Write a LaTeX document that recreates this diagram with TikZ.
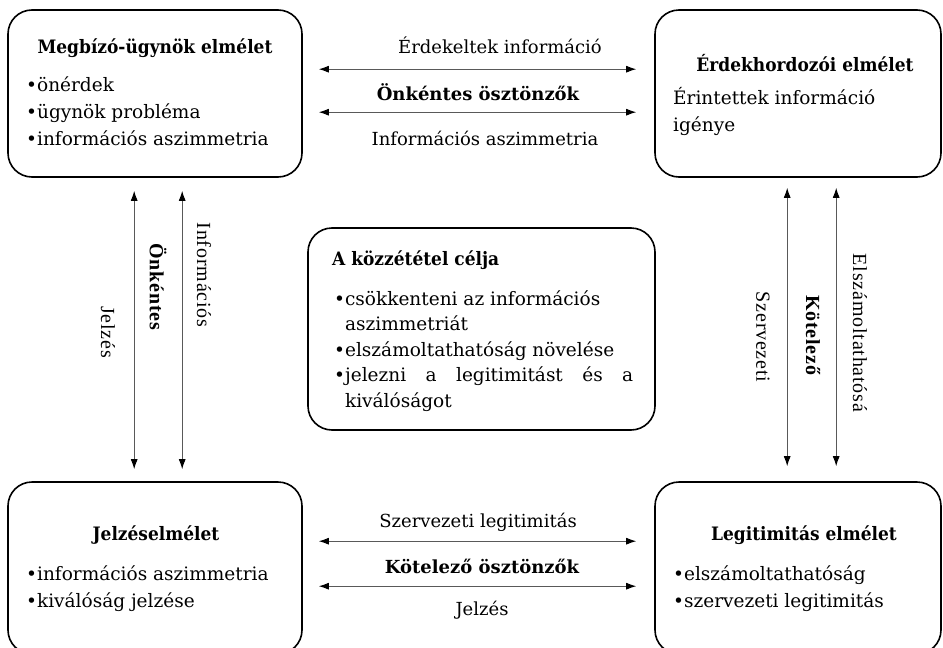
\documentclass[tikz,border=0pt]{standalone}
\usepackage{fontspec}
\setmainfont{DejaVu Serif}
\newfontfamily\rotfont[LetterSpace=4]{Liberation Serif}
\usetikzlibrary{calc,arrows.meta}

\tikzset{
    box/.style={draw, line width=1.6pt, rounded corners=24pt, inner sep=0pt},
    head/.style={font=\bfseries\fontsize{18.5}{20}\selectfont\addfontfeature{FakeStretch=0.92}, inner sep=0pt},
    lst/.style={font=\fontsize{18.5}{27}\selectfont, align=left, inner sep=0pt},
    lbl/.style={font=\fontsize{18}{20}\selectfont, inner sep=0pt},
    blbl/.style={font=\bfseries\fontsize{18}{20}\selectfont, inner sep=0pt},
    vlbl/.style={font=\rotfont\fontsize{20}{24}\selectfont, rotate=-90, inner sep=0pt},
    bvlbl/.style={font=\rotfont\bfseries\fontsize{20}{24}\selectfont, rotate=-90, inner sep=0pt},
    biarrow/.style={draw=black!65, line width=0.9pt,
        {Latex[length=10pt,width=7pt,color=black]}-{Latex[length=10pt,width=7pt,color=black]}}
}

\begin{document}
\begin{tikzpicture}[x=1pt,y=-1pt]

    % Fix the frame of the picture
    \useasboundingbox (0,0) rectangle (943,648);
    \clip (0,0) rectangle (943,648);

    % Draw the four theory boxes and the centre box
    \node[box, minimum width=294, minimum height=167] (megbizo) at (155,93.5) {};
    \node[box, minimum width=286, minimum height=167] (erdek) at (798,93.5) {};
    \node[box, minimum width=294, minimum height=172] (jelzes) at (155,568) {};
    \node[box, minimum width=286, minimum height=172] (legit) at (798,568) {};
    \node[box, minimum width=347, minimum height=202] (cel) at (481.5,329) {};

    % Texts of the boxes
    \node[head] (megbizoT) at (155,48) {Megbízó-ügynök elmélet};
    \node[lst, anchor=north west] (megbizoL) at (26,77)
        {•önérdek\\•ügynök probléma\\•információs aszimmetria};

    \node[head] (erdekT) at (805,63) {Érdekhordozói elmélet};
    \node[lst, anchor=north west] (erdekL) at (673,87)
        {Érintettek információ\\igénye};

    \node[head] (jelzesT) at (156,535) {Jelzéselmélet};
    \node[lst, anchor=north west] (jelzesL) at (26,565)
        {•információs aszimmetria\\•kiválóság jelzése};

    \node[head] (legitT) at (804,535) {Legitimitás elmélet};
    \node[lst, anchor=north west] (legitL) at (673,565)
        {•elszámoltathatóság\\•szervezeti legitimitás};

    \node[head, anchor=west] (celT) at (332,260) {A közzététel célja};
    \node[lst, anchor=north west, font=\fontsize{18.5}{25.5}\selectfont] (celL) at (334,290)
        {•csökkenteni az információs\\
         \phantom{•}aszimmetriát\\
         •elszámoltathatóság növelése\\
         \makebox[299pt][s]{•jelezni a legitimitást és a}\\
         \phantom{•}kiválóságot};

    % Horizontal arrows between the boxes
    \draw[biarrow, shorten <=16pt, shorten >=18pt]
        ($(megbizo.north east)+(0,60)$) -- ($(erdek.north west)+(0,60)$);
    \draw[biarrow, shorten <=16pt, shorten >=18pt]
        ($(megbizo.north east)+(0,103)$) -- ($(erdek.north west)+(0,103)$);
    \draw[biarrow, shorten <=16pt, shorten >=18pt]
        ($(jelzes.north east)+(0,60)$) -- ($(legit.north west)+(0,60)$);
    \draw[biarrow, shorten <=16pt, shorten >=18pt]
        ($(jelzes.north east)+(0,105)$) -- ($(legit.north west)+(0,105)$);

    % Vertical arrows between the boxes
    \draw[biarrow, shorten <=13pt, shorten >=12pt]
        ($(megbizo.south west)+(127,0)$) -- ($(jelzes.north west)+(127,0)$);
    \draw[biarrow, shorten <=13pt, shorten >=12pt]
        ($(megbizo.south west)+(175,0)$) -- ($(jelzes.north west)+(175,0)$);
    \draw[biarrow, shorten <=10pt, shorten >=15pt]
        ($(erdek.south west)+(133,0)$) -- ($(legit.north west)+(133,0)$);
    \draw[biarrow, shorten <=10pt, shorten >=15pt]
        ($(erdek.south west)+(182,0)$) -- ($(legit.north west)+(182,0)$);

    % Labels of the horizontal arrows
    \node[lbl] (felso1) at (500,45) {Érdekeltek információ};
    \node[blbl] (felso2) at (478,92) {Önkéntes ösztönzők};
    \node[lbl] (felso3) at (485,138) {Információs aszimmetria};
    \node[lbl] (also1) at (478,522) {Szervezeti legitimitás};
    \node[blbl] (also2) at (482,566) {Kötelező ösztönzők};
    \node[lbl] (also3) at (482,610) {Jelzés};

    % Labels of the vertical arrows
    \node[vlbl] (bal1) at (108,332) {Jelzés};
    \node[bvlbl] (bal2) at (158,287) {Önkéntes};
    \node[vlbl] (bal3) at (204,275) {Információs};
    \node[vlbl] (jobb1) at (763,337) {Szervezeti};
    \node[bvlbl] (jobb2) at (813,335) {Kötelező};
    \node[vlbl] (jobb3) at (860,333) {Elszámoltathatósá};

\end{tikzpicture}
\end{document}
